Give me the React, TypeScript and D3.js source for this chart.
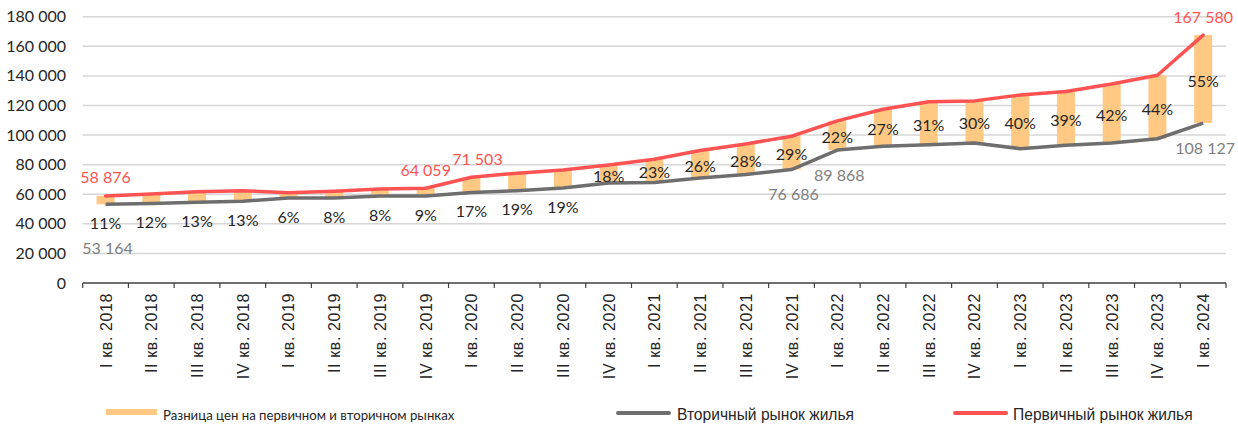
import React from 'react'
import { scaleBand, scaleLinear, line, range } from 'd3'

// Quarters shown on the x axis
const quarters = [
    'I кв. 2018', 'II кв. 2018', 'III кв. 2018', 'IV кв. 2018',
    'I кв. 2019', 'II кв. 2019', 'III кв. 2019', 'IV кв. 2019',
    'I кв. 2020', 'II кв. 2020', 'III кв. 2020', 'IV кв. 2020',
    'I кв. 2021', 'II кв. 2021', 'III кв. 2021', 'IV кв. 2021',
    'I кв. 2022', 'II кв. 2022', 'III кв. 2022', 'IV кв. 2022',
    'I кв. 2023', 'II кв. 2023', 'III кв. 2023', 'IV кв. 2023',
    'I кв. 2024',
]

// Первичный рынок жилья, руб./кв. м
const primary = [
    58876, 60100, 61700, 62400, 61000, 62000, 63500, 64059,
    71503, 74200, 76400, 79800, 83600, 89500, 94000, 99200,
    109600, 117400, 122500, 123100, 127100, 129400, 134500, 140400,
    167580,
]

// Вторичный рынок жилья, руб./кв. м
const secondary = [
    53164, 53700, 54600, 55200, 57500, 57400, 58800, 58800,
    61100, 62400, 64200, 67600, 68000, 71000, 73400, 76686,
    89868, 92400, 93500, 94700, 90800, 93100, 94700, 97500,
    108127,
]

// Разница цен, %
const diffPct = [
    11, 12, 13, 13, 6, 8, 8, 9, 17, 19, 19, 18, 23, 26, 28, 29,
    22, 27, 31, 30, 40, 39, 42, 44, 55,
]

const yTicks = [0, 20000, 40000, 60000, 80000, 100000, 120000, 140000, 160000, 180000]

// which points get a value label
const primaryLabeled = [0, 7, 8, 24]
const secondaryLabeled = [0, 15, 16, 24]

const RED = '#FF5353'
const GRAY = '#6E6E6E'
const ORANGE = '#FFC983'
const TEXT = '#262626'
const NUM_FONT = 'Lato, "Open Sans", sans-serif'
const ARIAL = '"Liberation Sans", Arial, sans-serif'

const W = 1238
const H = 429
const margin = { top: 16.7, right: 12, bottom: 146, left: 82.7 }

const fmt = (v: number) => String(v).replace(/\B(?=(\d{3})+(?!\d))/g, ' ')

const App = () => {
    const x = scaleBand<string>()
        .domain(quarters)
        .range([margin.left, W - margin.right])
        .padding(0)
    const y = scaleLinear()
        .domain([0, 180000])
        .range([H - margin.bottom, margin.top])

    const cx = (i: number) => (x(quarters[i]) as number) + x.bandwidth() / 2
    const barW = 18

    const lineGen = line<number>()
        .x((_, i) => cx(i))
        .y(d => y(d))

    const x0 = margin.left
    const x1 = W - margin.right
    const baseY = y(0)

    return (
        <svg width={W} height={H} style={{ position: 'absolute', left: 0, top: 0, background: 'white' }}>
            {/* grid */}
            {yTicks.filter(t => t > 0).map(t => (
                <line key={t} x1={x0} x2={x1} y1={y(t)} y2={y(t)} stroke="#D6D6D6" strokeWidth={1.5} />
            ))}
            {yTicks.map(t => (
                <text key={'l' + t} x={66} y={y(t)} dy="0.35em" textAnchor="end"
                    fontFamily={NUM_FONT} fontSize={16} fill={TEXT}>{fmt(t)}</text>
            ))}

            {/* difference bars */}
            {quarters.map((q, i) => (
                <rect key={q} x={cx(i) - barW / 2} width={barW}
                    y={y(primary[i])} height={y(secondary[i]) - y(primary[i])} fill={ORANGE} />
            ))}

            <path d={lineGen(secondary) || ''} fill="none" stroke={GRAY} strokeWidth={3.5} strokeLinejoin="round" />
            <path d={lineGen(primary) || ''} fill="none" stroke={RED} strokeWidth={3.5} strokeLinejoin="round" strokeLinecap="round" />

            {/* x axis */}
            <line x1={x0} x2={x1} y1={baseY} y2={baseY} stroke="#404040" strokeWidth={1.5} />
            {range(quarters.length + 1).map(i => {
                const tx = x0 + i * x.bandwidth()
                return <line key={'t' + i} x1={tx} x2={tx} y1={baseY} y2={baseY + 5} stroke="#404040" strokeWidth={1.2} />
            })}
            {quarters.map((q, i) => (
                <text key={'x' + q} transform={`translate(${cx(i) + 6},${baseY + 10}) rotate(-90)`}
                    textAnchor="end" fontFamily={ARIAL} fontSize={16} letterSpacing={0.6} fill={TEXT}>{q}</text>
            ))}

            {/* percent labels */}
            {diffPct.map((p, i) => {
                const ly = i < 11
                    ? y(secondary[i]) + 19
                    : (y(primary[i]) + y(secondary[i])) / 2 + 2
                return (
                    <text key={'p' + i} x={cx(i)} y={ly} dy="0.35em" textAnchor="middle"
                        fontFamily={NUM_FONT} fontSize={16} fill={TEXT}>{p}%</text>
                )
            })}

            {/* value labels */}
            {primaryLabeled.map(i => (
                <text key={'r' + i} x={cx(i) + (i === 8 ? 6 : 0)} y={y(primary[i]) - 18} dy="0.35em" textAnchor="middle"
                    fontFamily={NUM_FONT} fontSize={16} fill={RED}>{fmt(primary[i])}</text>
            ))}
            {secondaryLabeled.map(i => (
                <text key={'g' + i} x={cx(i) + 2} y={y(secondary[i]) + (i < 11 ? 44 : 25)} dy="0.35em" textAnchor="middle"
                    fontFamily={NUM_FONT} fontSize={16} fill="#7F7F7F">{fmt(secondary[i])}</text>
            ))}

            {/* legend */}
            <rect x={106} y={409} width={51} height={6} fill={ORANGE} />
            <text x={163} y={415} dy="0.35em" fontFamily={NUM_FONT} fontSize={13.2} fill={TEXT}>
                Разница цен на первичном и вторичном рынках
            </text>
            <line x1={618} x2={669} y1={413} y2={413} stroke={GRAY} strokeWidth={4} strokeLinecap="round" />
            <text x={677} y={415} dy="0.35em" fontFamily={ARIAL} fontSize={15.6} fill={TEXT}>
                Вторичный рынок жилья
            </text>
            <line x1={955} x2={1006} y1={413} y2={413} stroke={RED} strokeWidth={4} strokeLinecap="round" />
            <text x={1013} y={415} dy="0.35em" fontFamily={ARIAL} fontSize={15.6} fill={TEXT}>
                Первичный рынок жилья
            </text>
        </svg>
    )
}

export default App
